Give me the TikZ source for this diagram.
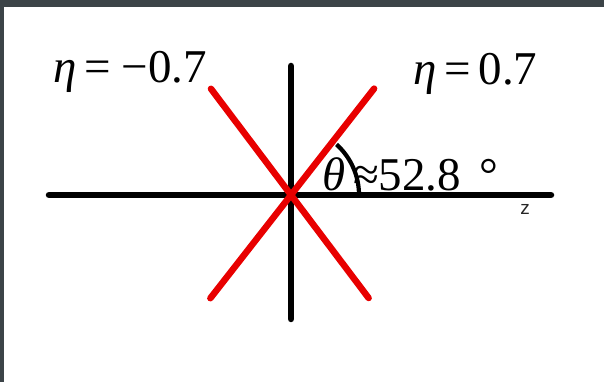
\documentclass[tikz,border=0pt]{standalone}
\usepackage{fontspec}
\setmainfont{Liberation Serif}
\newfontfamily\sansz{Liberation Sans}
\usetikzlibrary{positioning}
\definecolor{framegray}{RGB}{60,68,72}
\definecolor{linered}{RGB}{232,0,0}

\begin{document}
\begin{tikzpicture}[
  x=1pt,y=1pt,
  axis/.style={line width=6.5pt,line cap=round},
  asym/.style={draw=linered,line width=6.5pt,line cap=round},
  anglearc/.style={line width=4.2pt},
  etalabel/.style={inner sep=0pt,anchor=base west,
    font=\fontsize{47}{50}\selectfont}
]
  \useasboundingbox (0,0) rectangle (604,382);
  \fill[white] (0,0) rectangle (604,382);
  \fill[framegray] (0,375) rectangle (604,382);
  \fill[framegray] (0,0) rectangle (3.5,382);

  \coordinate (O) at (291,187);
  \coordinate (zl) at (49,187);
  \coordinate (zr) at (551,187);
  \coordinate (xt) at (291,316);
  \coordinate (xb) at (291,63);

  \draw[axis] (zl) -- (zr);
  \draw[axis] (xb) -- (xt);

  % the two lines eta = +-0.7
  \draw[asym] ([shift={(232:131)}]O) -- ([shift={(52:135)}]O);
  \draw[asym] ([shift={(127:133)}]O) -- ([shift={(307:129)}]O);

  \draw[anglearc] ([shift={(0:68)}]O) arc[start angle=0,end angle=48,radius=68];

  \node[etalabel] (em) at (53,299) {\textit{η}\,=\kern11pt−0.7};
  \node[etalabel] (ep) at (413,297) {\textit{η}\,=\,0.7};
  \node[etalabel] (th) at (322,191) {\textit{θ}\,≈52.8\kern18pt°};
  \node[font=\sansz\fontsize{19}{20}\selectfont,inner sep=0pt,
    text=black!85] (z) at (525,173) {z};
\end{tikzpicture}
\end{document}
